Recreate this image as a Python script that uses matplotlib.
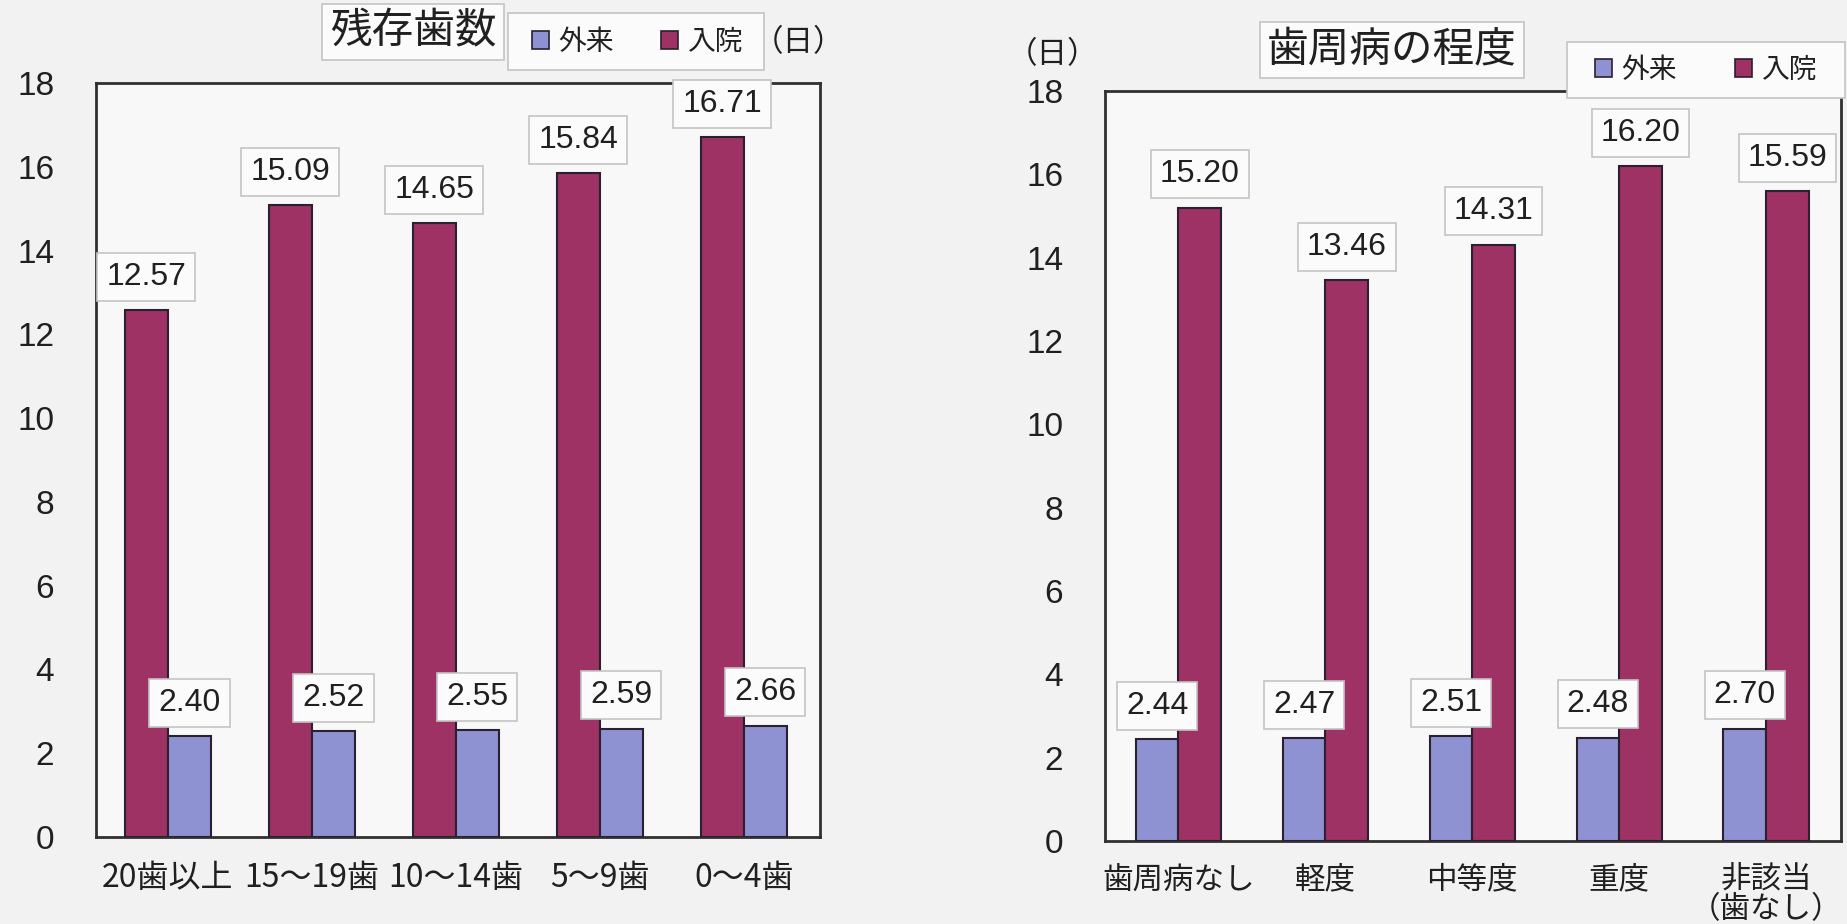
import matplotlib
matplotlib.use("Agg")
import matplotlib.pyplot as plt
from matplotlib.patches import Patch, Rectangle

# ---- data -------------------------------------------------------------
teeth_labels = ["20歯以上", "15〜19歯", "10〜14歯", "5〜9歯", "0〜4歯"]
teeth_outpatient = [2.40, 2.52, 2.55, 2.59, 2.66]
teeth_inpatient = [12.57, 15.09, 14.65, 15.84, 16.71]

perio_labels = ["歯周病なし", "軽度", "中等度", "重度", "非該当\n（歯なし）"]
perio_outpatient = [2.44, 2.47, 2.51, 2.48, 2.70]
perio_inpatient = [15.20, 13.46, 14.31, 16.20, 15.59]

y_ticks = [0, 2, 4, 6, 8, 10, 12, 14, 16, 18]
series_names = ["外来", "入院"]
unit_label = "（日）"
titles = ["残存歯数", "歯周病の程度"]

# ---- style ------------------------------------------------------------
OUT_COLOR = "#8e92d2"
IN_COLOR = "#9e3265"
EDGE = "#2a2030"
BOX_EDGE = "#c4c4c4"
PAPER = "#f3f2f2"
PANEL = "#f9f8f8"
TEXT = "#202020"

CJK = ["Noto Sans CJK JP", "DejaVu Sans"]
NUM = ["Liberation Sans", "DejaVu Sans"]

W, H = 1847, 924
fig = plt.figure(figsize=(W / 100, H / 100), dpi=100, facecolor=PAPER)


def px_rect(x0, y0, x1, y1):
    return [x0 / W, 1 - y1 / H, (x1 - x0) / W, (y1 - y0) / H]


def value_label(ax, x, v):
    ax.annotate(f"{v:.2f}", xy=(x, v), xytext=(0, 24), textcoords="offset points",
                ha="center", va="center", fontsize=23, family=NUM, color=TEXT,
                zorder=6,
                bbox=dict(boxstyle="square,pad=0.28", fc="#fbfbfb", ec=BOX_EDGE, lw=1.2))


def draw_panel(rect, labels, first_vals, second_vals, first_color, second_color,
               xlim, width, xpad, xsize):
    ax = fig.add_axes(rect, facecolor=PANEL)
    x = list(range(len(labels)))
    ax.bar([i - width / 2 for i in x], first_vals, width, color=first_color,
           edgecolor=EDGE, linewidth=1.5, zorder=3)
    ax.bar([i + width / 2 for i in x], second_vals, width, color=second_color,
           edgecolor=EDGE, linewidth=1.5, zorder=3)
    for i in x:
        value_label(ax, i - width / 2, first_vals[i])
        value_label(ax, i + width / 2, second_vals[i])
    ax.set_xlim(*xlim)
    ax.set_ylim(0, 18)
    ax.set_yticks(y_ticks)
    ax.set_yticklabels([str(t) for t in y_ticks], family=NUM, fontsize=24, color=TEXT)
    ax.set_xticks(x)
    ax.set_xticklabels(labels, family=CJK, fontsize=xsize, color=TEXT, linespacing=0.95)
    ax.tick_params(axis="y", length=0, pad=30)
    ax.tick_params(axis="x", length=0, pad=xpad)
    for s in ax.spines.values():
        s.set_color("#303030")
        s.set_linewidth(2.0)
    return ax


# left panel: remaining teeth (inpatient bar first)
ax1 = draw_panel(px_rect(96, 83, 820, 837), teeth_labels, teeth_inpatient,
                 teeth_outpatient, IN_COLOR, OUT_COLOR, (-0.5, 4.53), 0.30, 18, 23)

# right panel: periodontal disease severity (outpatient bar first)
ax2 = draw_panel(px_rect(1105, 91, 1841, 841), perio_labels, perio_outpatient,
                 perio_inpatient, OUT_COLOR, IN_COLOR, (-0.5, 4.51), 0.29, 17, 22)

handles = [Patch(fc=OUT_COLOR, ec=EDGE, lw=1.2, label=series_names[0]),
           Patch(fc=IN_COLOR, ec=EDGE, lw=1.2, label=series_names[1])]


def add_legend(box, first_handle_x, colspace):
    x0, y0, x1, y1 = box
    frame = Rectangle((x0 / W, 1 - y1 / H), (x1 - x0) / W, (y1 - y0) / H,
                      transform=fig.transFigure, fc="#fbfbfb", ec=BOX_EDGE,
                      lw=1.2, zorder=4)
    fig.patches.append(frame)
    leg = fig.legend(handles=handles, ncol=2, loc="center left",
                     bbox_to_anchor=(first_handle_x / W, 1 - (y0 + y1) / 2 / H),
                     borderaxespad=0, borderpad=0, frameon=False,
                     prop={"family": CJK, "size": 20}, handlelength=0.6,
                     handleheight=0.6, handletextpad=0.35, columnspacing=colspace)
    leg.set_zorder(5)
    for t in leg.get_texts():
        t.set_color(TEXT)
    return leg


add_legend((508, 13, 764, 70), 532, 1.7)
add_legend((1567, 42, 1845, 98), 1595, 2.1)

# chart titles in framed boxes
title_box = dict(boxstyle="square,pad=0.18", fc="#fbfbfb", ec=BOX_EDGE, lw=1.2)
fig.text(413 / W, 1 - 32 / H, titles[0], ha="center", va="center", family=CJK,
         fontsize=30, color=TEXT, bbox=title_box)
fig.text(1392 / W, 1 - 50 / H, titles[1], ha="center", va="center", family=CJK,
         fontsize=30, color=TEXT, bbox=title_box)

# unit labels
fig.text(799 / W, 1 - 43 / H, unit_label, ha="center", va="center", family=CJK,
         fontsize=22, color=TEXT)
fig.text(1053 / W, 1 - 55 / H, unit_label, ha="center", va="center", family=CJK,
         fontsize=22, color=TEXT)

fig.savefig("out.png", dpi=100, facecolor=PAPER)
